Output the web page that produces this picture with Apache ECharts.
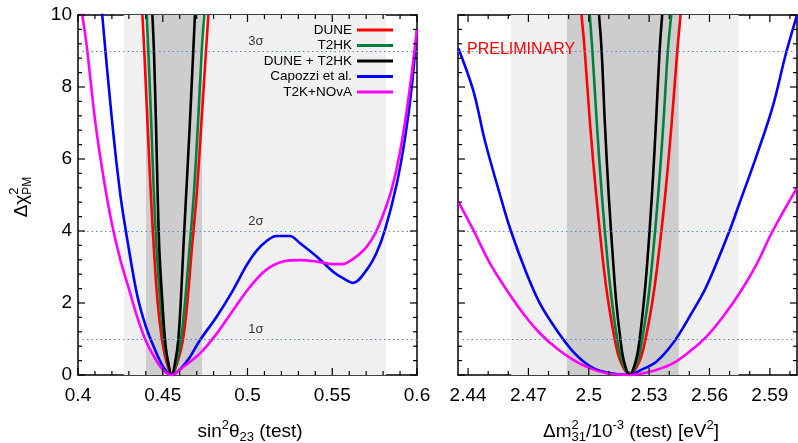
<!DOCTYPE html>
<html><head><meta charset="utf-8">
<script src="https://cdn.jsdelivr.net/npm/echarts@6/dist/echarts.min.js"></script>
<style>html,body{margin:0;padding:0;background:#fff}#c{width:798px;height:443px}</style>
</head><body><div id="c"></div><script>
// ---------- data ----------
const seriesNames = ['DUNE', 'T2HK', 'DUNE + T2HK', 'Capozzi et al.', 'T2K+NOvA'];
const seriesColors = ['#ff0000', '#00803c', '#000000', '#0000ff', '#ff00ff'];

// left panel: sin^2 theta23 (test) vs delta chi^2
const s23_DUNE = [[0.4380,10],[0.4391,9],[0.4410,7],[0.4430,5],[0.4448,3.47],[0.4470,2],[0.4495,1],[0.4520,0.4],[0.4553,0],[0.4590,0.4],[0.4620,1],[0.4645,2],[0.4671,3.47],[0.4700,5],[0.4728,7],[0.4755,9],[0.4769,10]];
const s23_T2HK = [[0.4405,10],[0.4415,9],[0.4432,7],[0.4448,5],[0.4464,3.47],[0.4486,2],[0.4506,1],[0.4528,0.4],[0.4553,0],[0.4584,0.4],[0.4608,1],[0.4631,2],[0.4657,3.47],[0.4683,5],[0.4708,7],[0.4730,9],[0.4745,10]];
const s23_COMB = [[0.4439,10],[0.4448,9],[0.4460,7],[0.4470,5],[0.4480,3.47],[0.4498,2],[0.4513,1],[0.4530,0.4],[0.4553,0],[0.4575,0.4],[0.4592,1],[0.4606,2],[0.4621,3.47],[0.4638,5],[0.4660,7],[0.4680,9],[0.4690,10]];
const s23_CAP = [[0.410,12.5],[0.4143,10],[0.420,7.1],[0.425,5.0],[0.430,3.5],[0.435,2.2],[0.440,1.35],[0.445,0.75],[0.450,0.25],[0.455,0],[0.4641,0.37],[0.472,0.97],[0.4818,1.62],[0.4915,2.36],[0.4995,3.05],[0.5053,3.45],[0.5113,3.72],[0.517,3.86],[0.525,3.86],[0.531,3.66],[0.5408,3.29],[0.5505,2.87],[0.5563,2.69],[0.5623,2.56],[0.5703,2.92],[0.576,3.38],[0.5811,4.03],[0.588,5.3],[0.593,6.6],[0.5969,8.0],[0.600,9.6]];
const s23_NOVA = [[0.400,10.6],[0.4025,10.0],[0.405,9.2],[0.410,7.1],[0.415,5.5],[0.420,4.2],[0.425,3.2],[0.430,2.4],[0.435,1.6],[0.440,0.95],[0.445,0.5],[0.450,0.15],[0.455,0],[0.462,0.22],[0.472,0.6],[0.482,1.16],[0.4915,1.8],[0.5015,2.45],[0.511,2.92],[0.521,3.15],[0.531,3.19],[0.541,3.15],[0.5505,3.08],[0.5563,3.08],[0.5605,3.17],[0.565,3.32],[0.5703,3.56],[0.5752,3.92],[0.580,4.45],[0.585,5.15],[0.590,6.2],[0.595,7.7],[0.600,9.6]];

// right panel: delta m^2_31 (test) vs delta chi^2
const dm_DUNE = [[2.4964,10],[2.4980,9],[2.5006,7],[2.5037,5],[2.5074,3],[2.5098,2],[2.5129,1],[2.5156,0.4],[2.5203,0],[2.5253,0.4],[2.5282,1],[2.5315,2],[2.5340,3],[2.5380,5],[2.5412,7],[2.5440,9],[2.5456,10]];
const dm_T2HK = [[2.5005,10],[2.5018,9],[2.5040,7],[2.5065,5],[2.5096,3],[2.5116,2],[2.5141,1],[2.5164,0.4],[2.5203,0],[2.5243,0.4],[2.5266,1],[2.5293,2],[2.5313,3],[2.5345,5],[2.5371,7],[2.5393,9],[2.5410,10]];
const dm_COMB = [[2.5051,10],[2.5064,9],[2.5080,7],[2.5099,5],[2.5123,3],[2.5137,2],[2.5157,1],[2.5174,0.4],[2.5203,0],[2.5234,0.4],[2.5253,1],[2.5273,2],[2.5289,3],[2.5314,5],[2.5334,7],[2.5352,9],[2.5365,10]];
const dm_CAP = [[2.4352,9.07],[2.4426,7.9],[2.4484,6.5],[2.4559,5.0],[2.4613,4.0],[2.4691,2.82],[2.4757,1.99],[2.4840,1.25],[2.4922,0.65],[2.5005,0.25],[2.5088,0.07],[2.5203,0],[2.5253,0.12],[2.5336,0.37],[2.5418,0.88],[2.5501,1.62],[2.5584,2.45],[2.5699,4.0],[2.5749,4.77],[2.5832,6.06],[2.5914,7.45],[2.5980,8.93],[2.6035,10.0]];
const dm_NOVA = [[2.4352,4.81],[2.4426,4.03],[2.4509,3.1],[2.4592,2.36],[2.4674,1.71],[2.4757,1.16],[2.4840,0.74],[2.4922,0.42],[2.5005,0.19],[2.5088,0.05],[2.5203,0],[2.5253,0.03],[2.5336,0.14],[2.5418,0.32],[2.5501,0.65],[2.5584,1.06],[2.5667,1.62],[2.5749,2.27],[2.5832,3.05],[2.5914,4.0],[2.6035,5.2]];

// allowed ranges (shaded bands)
const s23_band3 = [0.427, 0.5817];
const s23_band1 = [0.4401, 0.4732];
const dm_band3 = [2.4613, 2.5744];
const dm_band1 = [2.4891, 2.5447];

// sigma levels
const sigmaLevels = [1, 4, 9];
const sigmaLabels = ['1σ', '2σ', '3σ'];
const sigmaLabelX = 0.505;

// axes and ticks
const s23Range = [0.4, 0.6];
const dmRange = [2.435, 2.6035];
const chiRange = [0, 10];
const s23MajorTicks = [0.40, 0.45, 0.50, 0.55, 0.60];
const s23MinorTicks = [0.41,0.42,0.43,0.44,0.46,0.47,0.48,0.49,0.51,0.52,0.53,0.54,0.56,0.57,0.58,0.59];
const dmLabelValues = [2.44, 2.47, 2.50, 2.53, 2.56, 2.59];
const dmMinorTicks = [2.45,2.46,2.48,2.49,2.51,2.52,2.54,2.55,2.57,2.58,2.60];
const chiMajorTicks = [0, 2, 4, 6, 8, 10];
const chiMinorTicks = [0.4,0.8,1.2,1.6,2.4,2.8,3.2,3.6,4.4,4.8,5.2,5.6,6.4,6.8,7.2,7.6,8.4,8.8,9.2,9.6];

// ---------- chart ----------
const FONT = '"Liberation Sans", Arial, Helvetica, sans-serif';
const GRID_W = 339, GRID_H = 360;
const chart = echarts.init(document.getElementById('c'), null, {renderer: 'canvas'});

const lineAx = () => ({show: true, onZero: false, lineStyle: {color: '#000', width: 1.5}});
const labelStyle = {show: true, fontSize: 19, fontFamily: FONT, color: '#000'};
const fmt = v => String(+v.toFixed(2));
function ax(o) {
  return Object.assign({type: 'value', splitLine: {show: false}, axisLabel: {show: false},
    axisTick: {show: false}, minorTick: {show: false}, axisLine: lineAx()}, o);
}
const xAxes = [
  ax({gridIndex: 0, position: 'bottom', min: s23Range[0], max: s23Range[1], interval: 0.05,
    axisLabel: Object.assign({}, labelStyle, {margin: 11, formatter: fmt})}),
  ax({gridIndex: 0, position: 'top', min: s23Range[0], max: s23Range[1], interval: 0.05}),
  ax({gridIndex: 1, position: 'bottom', min: dmRange[0], max: dmRange[1],
    axisLabel: Object.assign({}, labelStyle, {margin: 11, customValues: dmLabelValues, formatter: fmt})}),
  ax({gridIndex: 1, position: 'top', min: dmRange[0], max: dmRange[1]})
];
const yAxes = [
  ax({gridIndex: 0, position: 'left', min: chiRange[0], max: chiRange[1], interval: 2,
    axisLabel: Object.assign({}, labelStyle, {margin: 6})}),
  ax({gridIndex: 0, position: 'right', min: chiRange[0], max: chiRange[1], interval: 2}),
  ax({gridIndex: 1, position: 'left', min: chiRange[0], max: chiRange[1], interval: 2}),
  ax({gridIndex: 1, position: 'right', min: chiRange[0], max: chiRange[1], interval: 2})
];

function bandSeries(xi, yi, b3, b1) {
  return {
    type: 'line', xAxisIndex: xi, yAxisIndex: yi, data: [], silent: true, z: 1,
    symbol: 'none', lineStyle: {opacity: 0},
    markArea: {silent: true, data: [
      [{xAxis: b3[0], itemStyle: {color: '#f0f0f0'}}, {xAxis: b3[1]}],
      [{xAxis: b1[0], itemStyle: {color: '#cdcdcd'}}, {xAxis: b1[1]}]
    ]},
    markLine: {silent: true, symbol: 'none', label: {show: false},
      lineStyle: {type: [1.5, 3], color: '#5f84cc', width: 1},
      data: sigmaLevels.map(v => ({yAxis: v}))}
  };
}
function curve(name, color, xi, yi, data) {
  return {type: 'line', name: name, xAxisIndex: xi, yAxisIndex: yi, data: data,
    symbol: 'none', smooth: 0.35, clip: true, z: 3,
    lineStyle: {color: color, width: 2.6}, itemStyle: {color: color}};
}
const leftData = [s23_DUNE, s23_T2HK, s23_COMB, s23_CAP, s23_NOVA];
const rightData = [dm_DUNE, dm_T2HK, dm_COMB, dm_CAP, dm_NOVA];

const series = [bandSeries(0, 0, s23_band3, s23_band1), bandSeries(2, 2, dm_band3, dm_band1)];
seriesNames.forEach((n, i) => series.push(curve(n, seriesColors[i], 0, 0, leftData[i])));
seriesNames.forEach((n, i) => series.push(curve(n, seriesColors[i], 2, 2, rightData[i])));
series.push({
  type: 'scatter', xAxisIndex: 0, yAxisIndex: 0, silent: true, z: 4,
  symbolSize: 1, itemStyle: {color: 'rgba(0,0,0,0)'},
  data: sigmaLevels.map(v => [sigmaLabelX, v]),
  label: {show: true, position: 'top', distance: 3, fontSize: 13, fontFamily: FONT, color: '#000',
    formatter: p => sigmaLabels[p.dataIndex]}
});

function mathText(pieces, cx, cy, rot) {
  const ctx = document.createElement('canvas').getContext('2d');
  let x = 0, stackW = 0; const els = [];
  pieces.forEach(p => {
    const f = p.s + 'px ' + FONT;
    ctx.font = f;
    const w = ctx.measureText(p.t).width;
    els.push({type: 'text', x: x, y: p.dy || 0, silent: true,
      style: {text: p.t, font: f, fill: '#000', textAlign: 'left', align: 'left',
        textVerticalAlign: 'middle', verticalAlign: 'middle'}});
    if (p.hold) { stackW = Math.max(stackW, w); }
    else { x += Math.max(w, stackW); stackW = 0; }
  });
  els.forEach(e => { e.x -= x / 2; });
  return {type: 'group', x: cx, y: cy, rotation: rot || 0, children: els};
}

const graphics = [
  mathText([{t: 'Δχ', s: 19}, {t: '2', s: 13, dy: -8, hold: true}, {t: 'PM', s: 12, dy: 6}], 22, 197, Math.PI / 2),
  mathText([{t: 'sin', s: 19}, {t: '2', s: 13, dy: -7}, {t: 'θ', s: 19}, {t: '23', s: 13, dy: 5}, {t: ' (test)', s: 19}], 250, 432, 0),
  mathText([{t: 'Δm', s: 19}, {t: '2', s: 13, dy: -7, hold: true}, {t: '31', s: 13, dy: 5}, {t: '/10', s: 19},
    {t: '-3', s: 13, dy: -7}, {t: ' (test) [eV', s: 19}, {t: '2', s: 13, dy: -7}, {t: ']', s: 19}], 631, 432, 0),
  {type: 'text', left: 467, top: 42, silent: true, z: 10,
    style: {text: 'PRELIMINARY', font: '16px ' + FONT, fill: '#ff0000'}}
];

chart.setOption({
  animation: false,
  backgroundColor: '#fff',
  textStyle: {fontFamily: FONT},
  grid: [
    {left: 78, top: 15, width: GRID_W, height: GRID_H},
    {left: 458, top: 15, width: GRID_W, height: GRID_H}
  ],
  xAxis: xAxes,
  yAxis: yAxes,
  legend: {
    data: seriesNames, orient: 'vertical', align: 'right', right: 405, top: 23,
    icon: 'path://M0,0H36V3H0Z',
    itemWidth: 36, itemHeight: 14, itemGap: 1.5, padding: 0,
    textStyle: {fontSize: 13.5, fontFamily: FONT, color: '#000'},
    selectedMode: false
  },
  series: series,
  graphic: graphics
});

// inward ticks on all four sides of each panel, positioned through the axis scales
function tickGraphics(gridIndex, xr, xMaj, xMin) {
  const els = [];
  const P = p => chart.convertToPixel({gridIndex: gridIndex}, p);
  const seg = (x1, y1, x2, y2) => els.push({type: 'line', silent: true, z: 100,
    shape: {x1: x1, y1: y1, x2: x2, y2: y2}, style: {stroke: '#000', lineWidth: 1.2}});
  const addX = (v, L) => {
    const b = P([v, chiRange[0]]), t = P([v, chiRange[1]]);
    seg(b[0], b[1], b[0], b[1] - L); seg(t[0], t[1], t[0], t[1] + L);
  };
  const addY = (v, L) => {
    const l = P([xr[0], v]), r = P([xr[1], v]);
    seg(l[0], l[1], l[0] + L, l[1]); seg(r[0], r[1], r[0] - L, r[1]);
  };
  xMaj.forEach(v => addX(v, 7)); xMin.forEach(v => addX(v, 4));
  chiMajorTicks.forEach(v => addY(v, 7)); chiMinorTicks.forEach(v => addY(v, 4));
  return els;
}
const tickEls = tickGraphics(0, s23Range, s23MajorTicks, s23MinorTicks)
  .concat(tickGraphics(1, dmRange, dmLabelValues, dmMinorTicks));
chart.setOption({graphic: graphics.concat([{type: 'group', silent: true, z: 100, children: tickEls}])});
</script></body></html>
